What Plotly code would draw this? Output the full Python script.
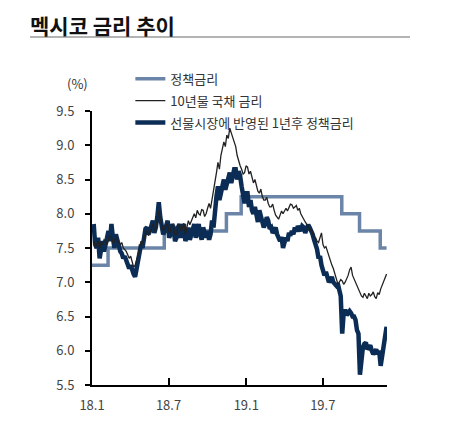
import pandas as pd
import plotly.graph_objs as go

# two points a week (Fri / Tue)
days = pd.date_range("2018-01-05", periods=199, freq="84h")

# 선물시장에 반영된 1년후 정책금리
fwd_rate = [7.85, 7.55, 7.50, 7.65, 7.35, 7.55, 7.60, 7.45, 7.55, 7.70,
            7.75, 7.60, 7.85, 7.65, 7.50, 7.70, 7.60, 7.50, 7.45, 7.42,
            7.35, 7.38, 7.30, 7.22, 7.20, 7.25, 7.15, 7.12, 7.08, 7.18,
            7.30, 7.45, 7.55, 7.50, 7.65, 7.78, 7.80, 7.70, 7.75, 7.85,
            7.90, 7.72, 7.80, 7.95, 8.17, 7.95, 7.85, 7.70, 7.75, 7.82,
            7.90, 7.65, 7.70, 7.85, 7.80, 7.60, 7.65, 7.80, 7.85, 7.65,
            7.75, 7.85, 7.60, 7.72, 7.80, 7.62, 7.70, 7.78, 7.85, 7.65,
            7.75, 7.85, 7.70, 7.62, 7.80, 7.70, 7.65, 7.75, 7.62, 7.70,
            7.90, 7.80, 8.10, 8.25, 8.40, 8.20, 8.30, 8.45, 8.50, 8.35,
            8.45, 8.55, 8.60, 8.45, 8.55, 8.65, 8.65, 8.50, 8.62, 8.55,
            8.40, 8.25, 8.15, 8.30, 8.30, 8.10, 8.20, 8.05, 8.00, 8.10,
            7.95, 7.88, 8.05, 7.95, 7.90, 7.80, 7.85, 7.95, 7.90, 7.78,
            7.80, 7.72, 7.75, 7.80, 7.70, 7.62, 7.60, 7.66, 7.50, 7.58,
            7.65, 7.60, 7.72, 7.68, 7.75, 7.70, 7.80, 7.74, 7.82, 7.78,
            7.75, 7.82, 7.80, 7.72, 7.78, 7.84, 7.80, 7.76, 7.70, 7.62,
            7.55, 7.48, 7.35, 7.38, 7.25, 7.18, 7.10, 7.15, 7.05, 7.00,
            7.03, 7.08, 7.00, 6.97, 6.95, 6.98, 6.85, 6.80, 6.25, 6.55,
            6.60, 6.52, 6.55, 6.58, 6.55, 6.50, 6.50, 6.45, 6.30, 6.25,
            5.65, 5.95, 6.05, 6.10, 6.12, 6.02, 6.05, 6.08, 6.00, 5.95,
            5.98, 6.02, 5.95, 6.00, 5.78, 5.95, 6.10, 6.20, 6.35]

# 10년물 국채 금리
bond_10y = [7.60, 7.52, 7.55, 7.60, 7.50, 7.58, 7.55, 7.62, 7.60, 7.55,
            7.62, 7.68, 7.65, 7.58, 7.60, 7.66, 7.62, 7.57, 7.55, 7.58,
            7.50, 7.48, 7.45, 7.40, 7.35, 7.38, 7.28, 7.22, 7.25, 7.32,
            7.40, 7.50, 7.60, 7.56, 7.65, 7.72, 7.75, 7.68, 7.72, 7.80,
            7.85, 7.75, 7.78, 7.92, 8.05, 7.92, 7.85, 7.76, 7.78, 7.84,
            7.85, 7.72, 7.75, 7.84, 7.80, 7.70, 7.70, 7.82, 7.85, 7.74,
            7.80, 7.86, 7.70, 7.80, 7.90, 7.84, 7.90, 7.96, 8.00, 7.94,
            8.05, 8.00, 7.98, 8.06, 8.05, 7.96, 8.00, 8.08, 8.15, 8.08,
            8.20, 8.35, 8.45, 8.60, 8.75, 8.65, 8.85, 8.95, 9.05, 8.98,
            9.15, 9.10, 9.25, 9.18, 9.10, 9.05, 8.98, 8.85, 8.75, 8.70,
            8.65, 8.58, 8.60, 8.70, 8.68, 8.58, 8.62, 8.52, 8.45, 8.50,
            8.40, 8.33, 8.30, 8.36, 8.25, 8.20, 8.20, 8.24, 8.15, 8.10,
            8.10, 8.14, 8.05, 7.98, 7.95, 7.92, 7.98, 8.04, 8.00, 8.05,
            8.08, 8.04, 8.10, 8.14, 8.13, 8.08, 8.10, 8.12, 8.05, 8.08,
            8.00, 7.95, 7.92, 7.88, 7.85, 7.80, 7.75, 7.78, 7.70, 7.66,
            7.65, 7.60, 7.58, 7.64, 7.72, 7.55, 7.50, 7.52, 7.45, 7.38,
            7.30, 7.25, 7.20, 7.12, 7.05, 6.98, 7.00, 7.04, 7.02, 6.97,
            7.00, 7.05, 7.10, 7.18, 7.22, 7.10, 7.05, 6.98, 6.93, 6.88,
            6.85, 6.80, 6.78, 6.84, 6.80, 6.76, 6.84, 6.80, 6.82, 6.86,
            6.79, 6.76, 6.85, 6.82, 6.90, 6.95, 7.00, 7.06, 7.12]

# 정책금리 (step changes)
policy_dates = ["2018-01-01", "2018-02-08", "2018-06-21", "2018-11-15", "2018-12-20",
                "2019-08-15", "2019-09-26", "2019-11-14", "2019-11-29"]
policy_rate = [7.25, 7.50, 7.75, 8.00, 8.25, 8.00, 7.75, 7.50, 7.50]

tick_dates = ["2018-01-01", "2018-07-01", "2019-01-01", "2019-07-01"]
tick_text = ["18.1", "18.7", "19.1", "19.7"]
y_ticks = [5.5, 6.0, 6.5, 7.0, 7.5, 8.0, 8.5, 9.0, 9.5]

font = "Noto Sans CJK KR"

trace_policy = go.Scatter(x=policy_dates, y=policy_rate, name="정책금리", mode="lines",
                          line=dict(color="#6b85a8", width=3.5, shape="hv"), legendrank=1,
                          legendgroup="a")
trace_fwd = go.Scatter(x=days, y=fwd_rate, name="선물시장에 반영된 1년후 정책금리", mode="lines",
                       line=dict(color="#0b2c55", width=4.5), legendrank=3, legendgroup="c")
trace_bond = go.Scatter(x=days, y=bond_10y, name="10년물 국채 금리", mode="lines",
                        line=dict(color="#222222", width=1.3), legendrank=2, legendgroup="b")

# page body has an 8px margin, so the figure is a bit smaller than the window
layout = go.Layout(
    width=466, height=434,
    margin=dict(l=84, r=87, t=103, b=57),
    paper_bgcolor="white", plot_bgcolor="white",
    font=dict(family=font, size=13, color="#444444"),
    showlegend=True,
    legend=dict(x=0.13, y=1.172, xanchor="left", yanchor="top", bgcolor="rgba(0,0,0,0)",
                font=dict(size=13, color="#333333"), tracegroupgap=2),
    xaxis=dict(type="date", range=["2018-01-01", "2019-11-30"],
               tickvals=tick_dates, ticktext=tick_text,
               ticks="inside", ticklen=7, tickwidth=2, tickcolor="black",
               showline=True, linewidth=2, linecolor="black",
               showgrid=False, zeroline=False, ticklabelstandoff=7),
    yaxis=dict(range=[5.5, 9.5], tickvals=y_ticks,
               tickformat=".1f", ticks="outside", ticklen=5, tickwidth=2, tickcolor="black",
               showline=True, linewidth=2, linecolor="black",
               showgrid=False, zeroline=False, ticklabelstandoff=8),
    yaxis2=dict(overlaying="y", range=[5.5, 9.5], tickvals=y_ticks,
                ticks="inside", ticklen=5, tickwidth=2, tickcolor="black",
                showticklabels=False, showgrid=False, zeroline=False, showline=False),
    annotations=[
        dict(text="<b>멕시코 금리 추이</b>", xref="paper", yref="paper", x=-0.215, y=1.372,
             xanchor="left", yanchor="top", showarrow=False, borderpad=0,
             font=dict(size=21, color="#111111")),
        dict(text="(%)", xref="paper", yref="paper", x=-0.048, y=1.1,
             xanchor="center", yanchor="middle", showarrow=False,
             font=dict(size=13, color="#333333")),
    ],
    shapes=[
        dict(type="line", xref="paper", yref="paper", x0=-0.21, x1=1.078, y0=1.27, y1=1.27,
             line=dict(color="#9a9a9a", width=1.5)),
    ],
)

fig = go.Figure(data=[trace_policy, trace_fwd, trace_bond], layout=layout)
fig.write_html("out.html")
